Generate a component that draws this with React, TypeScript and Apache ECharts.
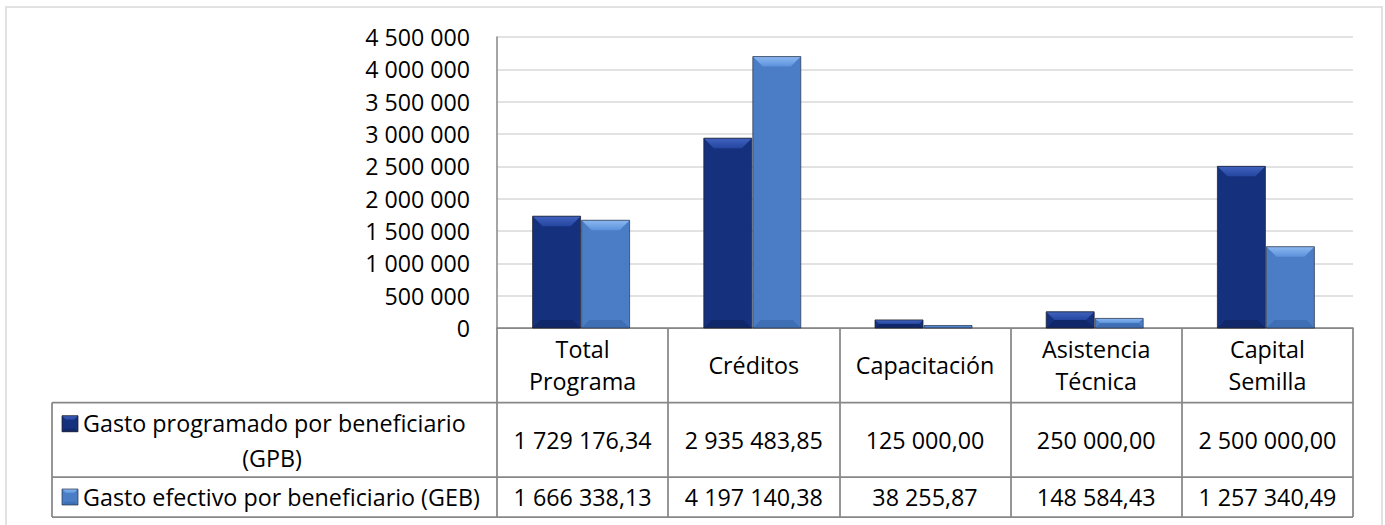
import React, { useEffect, useRef } from "react";
import * as echarts from "echarts";

// ---- Data ----
const categories = ["Total\nPrograma", "Créditos", "Capacitación", "Asistencia\nTécnica", "Capital\nSemilla"];
const seriesGPBName = ["Gasto programado por beneficiario", "(GPB)"];
const seriesGEBName = "Gasto efectivo por beneficiario (GEB)";
const gpbValues = [1729176.34, 2935483.85, 125000.0, 250000.0, 2500000.0];
const gebValues = [1666338.13, 4197140.38, 38255.87, 148584.43, 1257340.49];
const yMin = 0;
const yMax = 4500000;
const yInterval = 500000;

// ---- Layout ----
const W = 1385;
const H = 525;
const PLOT_L = 497;
const PLOT_R = 1353;
const PLOT_T = 37;
const PLOT_B = 328;
const ROW1_T = 402.5;
const ROW2_T = 477;
const TABLE_B = 517;
const TABLE_L = 52;
const BAR_W = 48;
const FONT = "'Open Sans', sans-serif";
const FS_TABLE = 23.3;
const FS_AXIS = 23.2;
const LINE_COL = "#878787";

const DARK = { main: "#15317e", top1: "#4163c0", top2: "#2446a0", bottom: "#10286a", stroke: "rgba(30,30,40,0.75)" };
const LIGHT = { main: "#4a7dc5", top1: "#8cb8f0", top2: "#5c92dc", bottom: "#3e6fb5", stroke: "rgba(40,50,70,0.7)" };

function fmt(v: number, dec: number): string {
  const s = v.toFixed(dec);
  const [i, d] = s.split(".");
  const ii = i.replace(/\B(?=(\d{3})+(?!\d))/g, " ");
  return d ? ii + "," + d : ii;
}

function bevelChildren(x: number, y: number, w: number, h: number, pal: any, bev: number) {
  const b = Math.min(bev, h / 2, w / 2);
  const bb = Math.min(bev * 0.8, h / 2, w / 2);
  return [
    { type: "rect", shape: { x, y, width: w, height: h }, style: { fill: pal.main } },
    {
      type: "polygon",
      shape: { points: [[x, y], [x + w, y], [x + w - b, y + b], [x + b, y + b]] },
      style: {
        fill: new echarts.graphic.LinearGradient(0, 0, 0, 1, [
          { offset: 0, color: pal.top1 },
          { offset: 1, color: pal.top2 },
        ]),
      },
    },
    {
      type: "polygon",
      shape: { points: [[x, y + h], [x + w, y + h], [x + w - bb, y + h - bb], [x + bb, y + h - bb]] },
      style: { fill: pal.bottom },
    },
    { type: "rect", shape: { x, y, width: w, height: h }, style: { fill: "none", stroke: pal.stroke, lineWidth: 1 } },
  ];
}

function makeRenderer(offset: number, pal: any) {
  return (_params: any, api: any) => {
    const idx = api.value(0);
    const val = api.value(1);
    const p0 = api.coord([idx, 0]);
    const p1 = api.coord([idx, val]);
    const x = p0[0] + offset;
    const y = p1[1];
    const h = Math.max(p0[1] - p1[1], 0.5);
    return { type: "group", children: bevelChildren(x, y, BAR_W, h, pal, 10) };
  };
}

function txt(text: string, x: number, y: number, align: string = "center") {
  return {
    type: "text",
    x,
    y,
    silent: true,
    style: {
      text,
      fill: "#000",
      fontSize: FS_TABLE,
      fontFamily: FONT,
      align,
      textAlign: align,
      verticalAlign: "middle",
      textVerticalAlign: "middle",
    },
  };
}

function hline(x1: number, x2: number, y: number) {
  return { type: "line", silent: true, shape: { x1, y1: y, x2, y2: y }, style: { stroke: LINE_COL, lineWidth: 1.75 } };
}
function vline(x: number, y1: number, y2: number) {
  return { type: "line", silent: true, shape: { x1: x, y1, x2: x, y2 }, style: { stroke: LINE_COL, lineWidth: 1.75 } };
}

export default function App() {
  const ref = useRef<HTMLDivElement>(null);
  useEffect(() => {
    document.body.style.margin = "0";
    if (!ref.current) return;
    const chart = echarts.init(ref.current, undefined, { renderer: "svg" });
    const colW = (PLOT_R - PLOT_L) / categories.length;
    const row1C = (ROW1_T + ROW2_T) / 2;
    const row2C = (ROW2_T + TABLE_B) / 2;

    const graphics: any[] = [];
    graphics.push({
      type: "rect",
      silent: true,
      shape: { x: 6, y: 7, width: 1376, height: 540 },
      style: { fill: "none", stroke: "#d9d9d9", lineWidth: 1.5 },
    });
    graphics.push(hline(TABLE_L, PLOT_R, ROW1_T));
    graphics.push(hline(TABLE_L, PLOT_R, ROW2_T));
    graphics.push(hline(TABLE_L, PLOT_R, TABLE_B));
    graphics.push(vline(TABLE_L, ROW1_T, TABLE_B));
    // legend keys
    graphics.push({ type: "group", silent: true, children: bevelChildren(62, row1C - 24, 16, 16, DARK, 4) });
    graphics.push({ type: "group", silent: true, children: bevelChildren(62, row2C - 8, 16, 16, LIGHT, 4) });
    graphics.push(txt(seriesGPBName[0], 83, row1C - 16.5, "left"));
    graphics.push(txt(seriesGPBName[1], 272, row1C + 18.5, "center"));
    graphics.push(txt(seriesGEBName, 83, row2C, "left"));
    categories.forEach((_c, i) => {
      const cx = PLOT_L + colW * (i + 0.5);
      graphics.push(txt(fmt(gpbValues[i], 2), cx, row1C));
      graphics.push(txt(fmt(gebValues[i], 2), cx, row2C));
    });

    chart.setOption({
      animation: false,
      grid: { left: PLOT_L, right: W - PLOT_R, top: PLOT_T, bottom: H - PLOT_B, containLabel: false },
      xAxis: {
        type: "category",
        data: categories,
        axisLine: { show: true, lineStyle: { color: LINE_COL, width: 1.75 } },
        axisTick: { show: true, length: TABLE_B - PLOT_B, lineStyle: { color: LINE_COL, width: 1.75 } },
        axisLabel: {
          interval: 0,
          margin: (ROW1_T - PLOT_B) / 2,
          verticalAlign: "middle",
          lineHeight: 32,
          fontSize: FS_TABLE,
          fontFamily: FONT,
          color: "#000",
        },
        splitLine: { show: false },
      },
      yAxis: {
        type: "value",
        min: yMin,
        max: yMax,
        interval: yInterval,
        axisLine: { show: true, lineStyle: { color: LINE_COL, width: 1.5 } },
        axisTick: { show: false },
        axisLabel: {
          margin: 27,
          fontSize: FS_AXIS,
          fontFamily: FONT,
          color: "#000",
          formatter: (v: number) => fmt(v, 0),
        },
        splitLine: { show: true, lineStyle: { color: "#d9d9d9", width: 1.5 } },
      },
      series: [
        {
          type: "custom",
          name: seriesGPBName.join(" "),
          data: gpbValues.map((v, i) => [i, v]),
          encode: { x: 0, y: 1 },
          renderItem: makeRenderer(-50, DARK),
        },
        {
          type: "custom",
          name: seriesGEBName,
          data: gebValues.map((v, i) => [i, v]),
          encode: { x: 0, y: 1 },
          renderItem: makeRenderer(-1, LIGHT),
        },
      ],
      graphic: { elements: graphics },
    });
    return () => chart.dispose();
  }, []);
  return <div ref={ref} style={{ width: W, height: H }} />;
}
